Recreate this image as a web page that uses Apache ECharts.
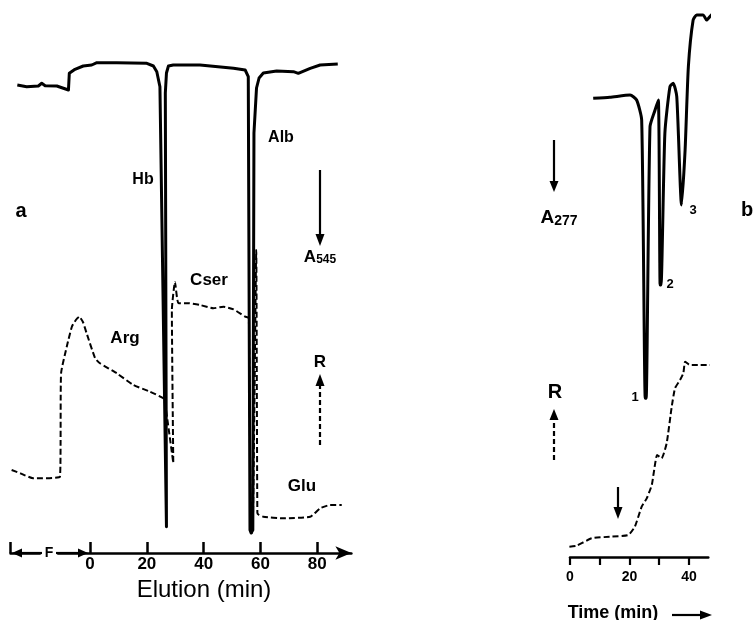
<!DOCTYPE html>
<html><head><meta charset="utf-8">
<script src="https://cdn.jsdelivr.net/npm/echarts@6/dist/echarts.min.js"></script>
<style>html,body{margin:0;padding:0;background:#fff}#c{width:753px;height:620px}</style>
</head><body><div id="c"></div>
<script>
// Panel a: elution (min) vs relative signal
const aA545Time = [-25.6,-22.3,-18.2,-17,-15.8,-11.7,-7.6,-7.3,-5.3,-2.4,0.6,2.4,9.4,20,22.3,23.5,24.6,26.9,27.1,26.5,26.9,27.6,29.3,38.7,50.5,54.6,55.7,56.3,56.7,57.3,57.7,58.6,59.5,61.0,65.7,71.6,73.3,77.5,81.0,87.2];
const aA545Value = [468,466.3,467,469.7,467.3,467,463,479.7,483.7,487,488,490.3,490.3,489.7,487,481.3,466.3,26.3,26.3,460,480,487,488,488,484.7,483,476.3,23,20,23,420,465,475,480,482,481.3,479.7,484.7,488,489];
const aRTime = [-27.6,-24.6,-20,-10.6,-10.2,-8.2,-6.4,-5.0,-3.8,-2.5,-1.2,1.8,3.5,9.4,15.3,21.1,25.8,26.4,29.3,28.8,29.9,31.1,35,38.7,43.4,46.9,50.5,54.6,55.9,56.6,57.2,58.5,58.9,59.5,61.0,68,77.5,81,84.5,88.6];
const aRValue = [83,79.7,74.7,76.3,179.7,206.3,226.3,233,236.3,231,219.7,194.7,189.7,179.7,168,161.3,154.7,150,90,243,271,250,249.7,248,244.7,246.3,243.7,236.3,235,20,20,303,40,38,36.3,34.7,36.3,44.7,48,48];
const aTicks = [0,20,40,60,80];
// Panel b: time (min) vs relative signal
const bA277Time = [7.8,13.4,20.2,22.4,24.1,25.3,25.6,26.9,28.6,29.7,30.3,30.6,31.9,33.6,34.7,35.9,37.5,38.7,39.8,41.4,42.6,44.8,45.9,48.2,50.4,52.1];
const bA277Value = [458.7,459.7,462,457,437,158.7,158.7,430.3,447,457,272,272,423.7,470.3,473.7,460.3,352,407,490.3,537,542,542,537,543.7,542,544.3];
const bRTime = [-0.2,2.2,7.3,13.4,19.6,21.8,24.1,25.8,27.5,29.3,30.8,32.5,34.2,35.3,37,38.1,38.7,40.3,43.7,49.9];
const bRValue = [10.3,11.3,18.7,20.3,22,30.3,50.3,58.7,72,102,98.7,113.7,150.3,168.7,177,183.7,195.3,192,192,192];
const bTicks = [0,10,20,30,40];
const bTickLabels = [0,20,40];

const zip = (xs, ys) => xs.map((x, i) => [x, ys[i]]);
const FF = '"Liberation Sans", Arial, Helvetica, sans-serif';
const chart = echarts.init(document.getElementById('c'), null, {renderer: 'canvas'});

function txt(text, x, y, size, weight) {
  return {type: 'text', z: 100, style: {text, x, y, font: (weight || 'bold') + ' ' + size + 'px ' + FF, fill: '#000', textAlign: 'center', textVerticalAlign: 'middle'}};
}
function arrow(x1, y1, x2, y2, dashed, head) {
  head = head || 11;
  const dx = x2 - x1, dy = y2 - y1, L = Math.hypot(dx, dy), ux = dx / L, uy = dy / L;
  const bx = x2 - ux * head, by = y2 - uy * head, w = 4.5;
  return [
    {type: 'line', z: 100, shape: {x1, y1, x2: bx, y2: by}, style: {stroke: '#000', lineWidth: 2.2, lineDash: dashed ? [5, 3] : null}},
    {type: 'polygon', z: 100, shape: {points: [[x2, y2], [bx - uy * w, by + ux * w], [bx + uy * w, by - ux * w]]}, style: {fill: '#000'}}
  ];
}

const graphic = [
  txt('a', 21, 211, 20),
  txt('Hb', 143, 180, 16),
  txt('Alb', 281, 138, 16),
  {type: 'text', z: 100, style: {text: '{a|A}{s|545}', x: 320, y: 257, textAlign: 'center', textVerticalAlign: 'middle',
    rich: {a: {font: 'bold 17px ' + FF, fill: '#000'}, s: {font: 'bold 12px ' + FF, fill: '#000', padding: [6, 0, 0, 0]}}}},
  txt('Cser', 209, 280, 17),
  txt('Arg', 125, 338, 17),
  txt('R', 320, 362, 17),
  txt('Glu', 302, 486, 17),
  txt('Elution (min)', 204, 590, 24, 'normal'),
  {type: 'text', z: 100, style: {text: 'F', x: 49, y: 553, font: 'bold 14px ' + FF, fill: '#000', textAlign: 'center', textVerticalAlign: 'middle', backgroundColor: '#fff', padding: [0, 4]}},
  {type: 'text', z: 100, style: {text: '{a|A}{s|277}', x: 559, y: 218, textAlign: 'center', textVerticalAlign: 'middle',
    rich: {a: {font: 'bold 19px ' + FF, fill: '#000'}, s: {font: 'bold 14px ' + FF, fill: '#000', padding: [6, 0, 0, 0]}}}},
  txt('b', 747, 210, 20),
  txt('1', 635, 397, 13),
  txt('2', 670, 284, 13),
  txt('3', 693, 210, 13),
  txt('R', 555, 392, 20, '600'),
  txt('Time (min)', 613, 613, 18),
  ...arrow(320, 170, 320, 246, false, 12),
  ...arrow(320, 445, 320, 374, true, 12),
  ...arrow(554, 140, 554, 192, false, 11),
  ...arrow(554, 460, 554, 409, true, 11),
  ...arrow(618, 487, 618, 519, false, 12),
  ...arrow(672, 615, 712, 615, false, 12),
  ...arrow(42, 553, 12, 553, false, 10),
  ...arrow(56, 553, 88, 553, false, 10)
];

const option = {
  animation: false,
  backgroundColor: '#fff',
  grid: [
    {left: 10.5, width: 340.9, top: 40, height: 513},
    {left: 570, width: 138.3, top: 10, height: 547}
  ],
  xAxis: [
    {type: 'value', gridIndex: 0, min: -28, max: 92, splitLine: {show: false},
      axisLine: {show: true, onZero: false, symbol: ['none', 'arrow'], symbolSize: [10, 16], lineStyle: {color: '#000', width: 2.5}},
      axisTick: {show: true, inside: true, length: 11, customValues: [-28].concat(aTicks), lineStyle: {color: '#000', width: 2.5}},
      axisLabel: {show: true, customValues: aTicks, margin: 3, color: '#000', fontSize: 17, fontWeight: 'bold', fontFamily: FF}},
    {type: 'value', gridIndex: 1, min: 0, max: 46.5, splitLine: {show: false},
      axisLine: {show: true, onZero: false, lineStyle: {color: '#000', width: 2.5}},
      axisTick: {show: true, inside: false, length: 8, customValues: bTicks, lineStyle: {color: '#000', width: 2.2}},
      axisLabel: {show: true, customValues: bTickLabels, margin: 13, color: '#000', fontSize: 14, fontWeight: 'bold', fontFamily: FF}}
  ],
  yAxis: [
    {type: 'value', gridIndex: 0, min: 0, max: 513, show: false},
    {type: 'value', gridIndex: 1, min: 0, max: 547, show: false}
  ],
  series: [
    {type: 'line', xAxisIndex: 0, yAxisIndex: 0, data: zip(aA545Time, aA545Value), showSymbol: false, clip: false,
      lineStyle: {color: '#000', width: 3, join: 'round'}},
    {type: 'line', xAxisIndex: 0, yAxisIndex: 0, data: zip(aRTime, aRValue), showSymbol: false, clip: false, smooth: 0.15,
      lineStyle: {color: '#000', width: 2, type: [6, 3]}},
    {type: 'line', xAxisIndex: 1, yAxisIndex: 1, data: zip(bA277Time, bA277Value), showSymbol: false, clip: false, smooth: 0.2,
      lineStyle: {color: '#000', width: 3, join: 'round'}},
    {type: 'line', xAxisIndex: 1, yAxisIndex: 1, data: zip(bRTime, bRValue), showSymbol: false, clip: false, smooth: 0.15,
      lineStyle: {color: '#000', width: 2, type: [6, 3]}}
  ],
  graphic
};
chart.setOption(option);
</script>
</body></html>
